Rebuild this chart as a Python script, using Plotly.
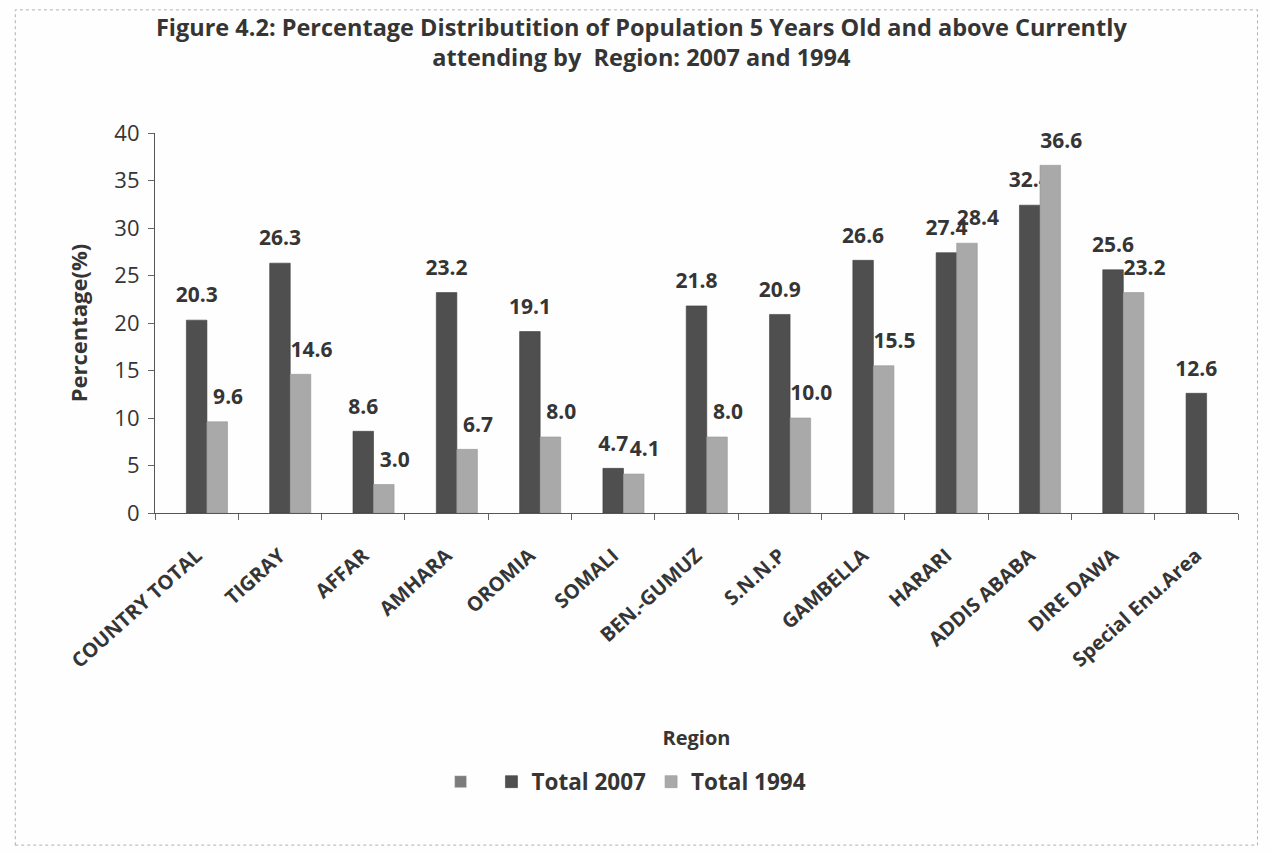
import plotly.graph_objects as go

regions = ["COUNTRY TOTAL", "TIGRAY", "AFFAR", "AMHARA", "OROMIA", "SOMALI",
           "BEN.-GUMUZ", "S.N.N.P", "GAMBELLA", "HARARI", "ADDIS ABABA",
           "DIRE DAWA", "Special Enu.Area"]
blank_series = [None] * 13
total_2007 = [20.3, 26.3, 8.6, 23.2, 19.1, 4.7, 21.8, 20.9, 26.6, 27.4, 32.4, 25.6, 12.6]
total_1994 = [9.6, 14.6, 3.0, 6.7, 8.0, 4.1, 8.0, 10.0, 15.5, 28.4, 36.6, 23.2, None]
y_ticks = [0, 5, 10, 15, 20, 25, 30, 35, 40]

FONT = "'Open Sans', Lato, sans-serif"
INK = "#353535"
# small base size: the empty second line acts as a spacer above the bar top
label_font = dict(family=FONT, size=9, color=INK, weight="bold")
tpl_2007 = "<span style='font-size:21px'>%{y:.1f}</span><br> "
tpl_1994 = "<span style='font-size:21px'>    %{y:.1f}</span><br> "

fig = go.Figure()
# first series has no values; it still holds a slot in every group and a legend swatch
fig.add_trace(go.Bar(x=regions, y=blank_series, name=" ",
                     marker=dict(color="#7c7c7c")))
fig.add_trace(go.Bar(
    x=regions, y=total_2007, name="<b>Total 2007</b>",
    marker=dict(color="#4f4f4f", line=dict(color="#404040", width=0.6)),
    texttemplate=tpl_2007, textposition="outside", constraintext="none",
    textfont=label_font, cliponaxis=False,
))
fig.add_trace(go.Bar(
    x=regions, y=total_1994, name="<b>Total 1994</b>",
    marker=dict(color="#a9a9a9", line=dict(color="#979797", width=0.6)),
    texttemplate=tpl_1994, textposition="outside", constraintext="none",
    textfont=label_font, cliponaxis=False,
))

fig.update_layout(
    width=1270, height=853,
    paper_bgcolor="#fefefe", plot_bgcolor="#fefefe",
    barmode="group", bargap=0.26, bargroupgap=0.0,
    margin=dict(l=155, r=32, t=133, b=340),
    title=dict(
        text="<b>Figure 4.2: Percentage Distributition of Population 5 Years Old and above Currently<br>attending by  Region: 2007 and 1994</b>",
        x=0.505, xanchor="center", xref="container",
        y=0.958, yanchor="top", yref="container",
        font=dict(family=FONT, size=23.5, color=INK),
    ),
    font=dict(family=FONT, color=INK),
    legend=dict(orientation="h", x=0.435, xanchor="center", y=-0.708, yanchor="middle",
                font=dict(family=FONT, size=22.5, color=INK),
                traceorder="normal", itemwidth=30, bgcolor="rgba(0,0,0,0)"),
    showlegend=True,
)

fig.update_xaxes(
    type="category", tickangle=-42, ticks="outside", tickson="boundaries",
    ticklen=6, tickcolor="#666", showline=True, linecolor="#555", linewidth=1.2,
    ticklabelstandoff=22,
    tickfont=dict(family=FONT, size=20, color=INK, weight="bold"),
    title=dict(text="<b>Region</b>", font=dict(family=FONT, size=20, color=INK),
               standoff=58),
)
fig.update_yaxes(
    range=[0, 40], tickvals=y_ticks, ticks="outside", ticklen=6, tickcolor="#666",
    showline=True, linecolor="#555", linewidth=1.2, showgrid=False, zeroline=False,
    ticklabelstandoff=4,
    tickfont=dict(family=FONT, size=22, color=INK),
    title=dict(text="<b>Percentage(%)</b>", font=dict(family=FONT, size=22, color=INK),
               standoff=20),
)

# outer chart border
fig.add_shape(type="rect", xref="paper", yref="paper",
              x0=-0.129, x1=1.018, y0=-0.874, y1=1.324,
              line=dict(color="#b0b0b0", width=1, dash="dot"))

fig.write_html("out.html")
